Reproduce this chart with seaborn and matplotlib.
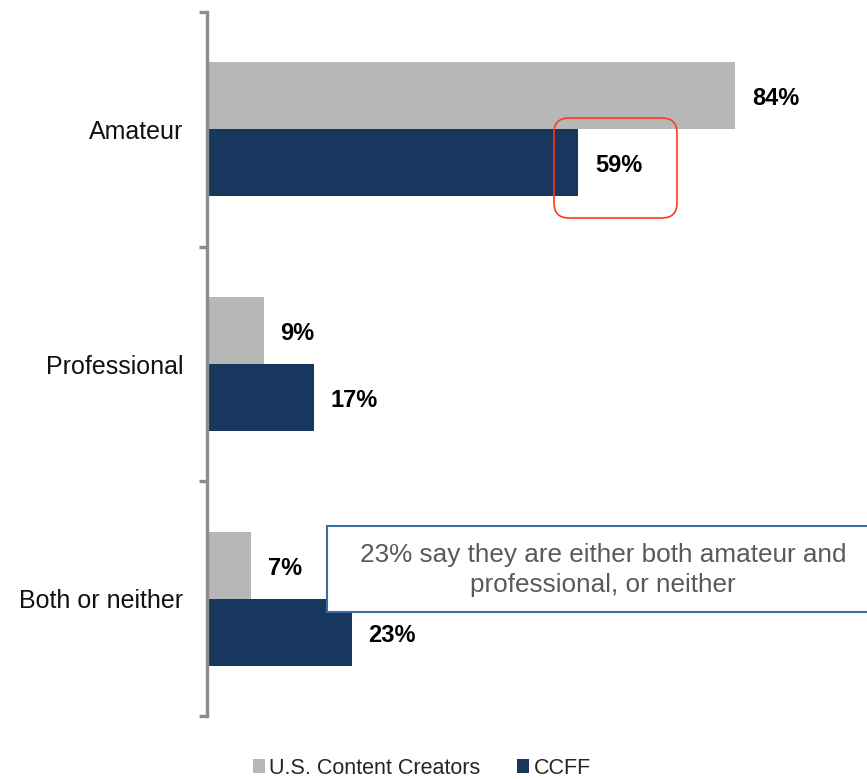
import numpy as np
import pandas as pd
import matplotlib.pyplot as plt
import matplotlib.transforms as mtransforms
from matplotlib.patches import FancyBboxPatch, Rectangle, Patch
import seaborn as sns

# andmed
kategooriad = ["Amateur", "Professional", "Both or neither"]
seeriad = ["U.S. Content Creators", "CCFF"]
us_creators = [84, 9, 7]
ccff = [59, 17, 23]
varvid = ["#b7b7b7", "#17375e"]

df = pd.DataFrame({
    "kategooria": kategooriad * 2,
    "seeria": [seeriad[0]] * 3 + [seeriad[1]] * 3,
    "vaartus": us_creators + ccff,
})

sns.set_style("white")
plt.rcParams["font.family"] = ["Liberation Sans", "DejaVu Sans"]

fig = plt.figure(figsize=(8.67, 7.79), dpi=100)
ax = fig.add_axes([207 / 867, 63 / 779, 660 / 867, 704 / 779])

sns.barplot(data=df, y="kategooria", x="vaartus", hue="seeria",
            palette=varvid, width=0.57, orient="h", ax=ax, legend=False,
            saturation=1, edgecolor="none")

ax.set_xlim(0, 105)
ax.set_ylim(2.5, -0.5)
ax.set_xlabel("")
ax.set_ylabel("")
ax.set_xticks([])

# telgjoon ja kriipsud
for s in ["top", "right", "bottom"]:
    ax.spines[s].set_visible(False)
ax.spines["left"].set_color("#8c8c8c")
ax.spines["left"].set_linewidth(2.4)
ax.set_yticks([-0.5, 0.5, 1.5, 2.5], minor=True)
ax.tick_params(axis="y", which="minor", length=6, width=2.4, color="#8c8c8c", direction="out", left=True)
ax.tick_params(axis="y", which="major", length=0, pad=17, labelsize=18, labelcolor="#111111")

# väärtuste sildid
for cont in ax.containers:
    for bar in cont:
        w = bar.get_width()
        ax.annotate(f"{w:.0f}%", (w, bar.get_y() + bar.get_height() / 2),
                    xytext=(17, -3), textcoords="offset pixels",
                    ha="left", va="center", fontsize=17, fontweight="bold",
                    color="black")

ident = mtransforms.IdentityTransform()

# punane ümar kast
fig.add_artist(FancyBboxPatch((554, 779 - 218), 123, 100,
                              boxstyle="round,pad=0,rounding_size=15",
                              transform=ident, facecolor="none",
                              edgecolor="#ff3a1a", linewidth=1.2))

# infokast
fig.add_artist(Rectangle((327, 779 - 612), 560, 86, transform=ident,
                         facecolor="white", edgecolor="#3a6e9e", linewidth=1.5))
fig.text(603 / 867, 1 - 570 / 779,
         "23% say they are either both amateur and\nprofessional, or neither",
         ha="center", va="center", fontsize=18.8, color="#595959", linespacing=1.3)

# legend
kasitsejad = [Patch(facecolor=c, edgecolor="none") for c in varvid]
fig.legend(kasitsejad, seeriad, loc="center", bbox_to_anchor=(422 / 867, 1 - 768 / 779),
           ncol=2, frameon=False, fontsize=15.5, handlelength=0.55, handleheight=0.65,
           handletextpad=0.2, columnspacing=1.7)

fig.savefig("out.png", dpi=100)
